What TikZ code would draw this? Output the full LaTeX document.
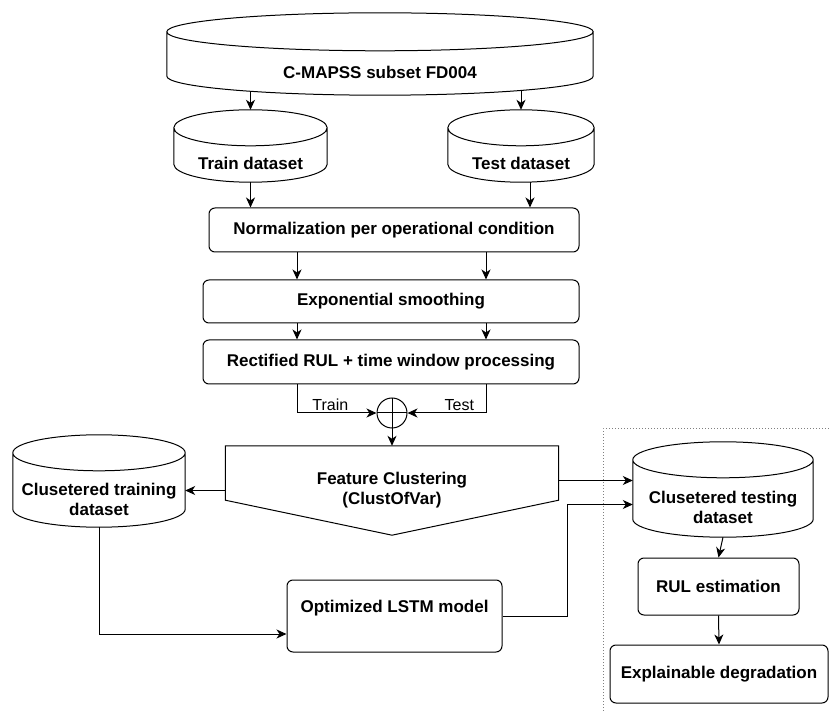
\documentclass[tikz,border=0pt]{standalone}
\usepackage{fontspec}
\setmainfont{Liberation Sans}
\usetikzlibrary{arrows.meta,calc,positioning,shapes.geometric}

% cylinder outline round a named node: #1 node, #2 cap depth (pt)
\newcommand{\dbshape}[2]{%
  \draw[line width=1pt] let \p1=(#1.north west), \p2=(#1.south east), \n1={abs(\x2-\x1)/2} in
    ([yshift=-#2pt]#1.north) ellipse[x radius=\n1, y radius=#2pt]
    ([yshift=-#2pt]#1.north west) -- ([yshift=#2pt]#1.south west)
    arc[start angle=180, end angle=360, x radius=\n1, y radius=#2pt]
    -- ([yshift=-#2pt]#1.north east);
}

\begin{document}
\begin{tikzpicture}[x=1pt, y=-1pt,
      font=\fontsize{17}{20}\selectfont\bfseries,
      proc/.style={draw, line width=1pt, rounded corners=6pt, align=center,
        inner sep=2pt},
      db/.style={align=center, inner sep=0pt, text depth=0pt, text height=#1},
      arr/.style={-{Stealth[length=10pt,width=9pt,inset=3pt]}, line width=1pt},
      lbl/.style={font=\fontsize{16}{18}\selectfont, inner sep=2pt}
    ]
    \useasboundingbox (0,0) rectangle (831,711);

    % data sources
    \node[db=50pt, minimum width=426pt, minimum height=82pt] (src) at (380,54) {C-MAPSS subset FD004};
    \node[db=48pt, minimum width=153pt, minimum height=72pt] (train) at (250.5,146) {Train dataset};
    \node[db=48pt, minimum width=146pt, minimum height=72pt] (test) at (521,146) {Test dataset};
    \dbshape{src}{19}
    \dbshape{train}{18}
    \dbshape{test}{18}
    \draw[arr, shorten <=-4pt] (src.south -| train.north) -- (train.north);
    \draw[arr, shorten <=-4pt] (src.south -| test.north) -- (test.north);

    % preprocessing
    \node[proc, minimum width=370pt, minimum height=44pt] (norm) at (394,230) {Normalization per operational condition};
    \node[proc, minimum width=376pt, minimum height=43pt] (smooth) at (391,301.5) {Exponential smoothing};
    \node[proc, minimum width=376pt, minimum height=44pt] (rulwin) at (391,362) {Rectified RUL + time window processing};
    \coordinate (lx) at (297,0);
    \coordinate (rx) at (486,0);
    \draw[arr] (train.south) -- (train.south |- norm.north);
    \draw[arr] ([xshift=9pt]test.south) -- ([xshift=9pt]test.south |- norm.north);
    \draw[arr] (norm.south -| lx) -- (smooth.north -| lx);
    \draw[arr] (norm.south -| rx) -- (smooth.north -| rx);
    \draw[arr] (smooth.south -| lx) -- (rulwin.north -| lx);
    \draw[arr] (smooth.south -| rx) -- (rulwin.north -| rx);

    % merge
    \node[draw, circle, line width=1pt, minimum size=30pt, inner sep=0pt,
      path picture={\draw[line width=1pt] (path picture bounding box.north) -- (path picture bounding box.south)
        (path picture bounding box.west) -- (path picture bounding box.east);}] (sum) at (392,413) {};
    \draw[arr] (rulwin.south -| lx) |- node[lbl, above, pos=0.71] {Train} (sum.west);
    \draw[arr] (rulwin.south -| rx) |- node[lbl, above, pos=0.67] {Test} (sum.east);

    % clustering
    \node[align=center, minimum width=333pt, minimum height=89pt, inner sep=0pt] (clust) at (392,490.5) {Feature Clustering\\(ClustOfVar)};
    \draw[line width=1pt] (clust.north west) -- (clust.north east) -- ([yshift=35pt]clust.south east)
      -- (clust.south) -- ([yshift=35pt]clust.south west) -- cycle;
    \draw[arr] (sum.south) -- (clust.north);

    \node[db=69pt, minimum width=172pt, minimum height=92pt] (trc) at (99,481) {Clusetered training\\dataset};
    \node[db=68pt, minimum width=180pt, minimum height=95pt] (tstc) at (723,489.5) {Clusetered testing\\dataset};
    \dbshape{trc}{18}
    \dbshape{tstc}{18}
    \draw[arr] (clust.west) -- (clust.west -| trc.east);
    \draw[arr] ([yshift=10pt]clust.east) -- ([yshift=10pt]clust.east -| tstc.west);

    % model
    \node[proc, minimum width=215pt, minimum height=72pt] (lstm) at (394.5,616) {Optimized LSTM model\\~};
    \draw[arr] (trc.south) |- ([yshift=-18pt]lstm.west);
    \draw[arr] (lstm.east) -| ([xshift=-65pt,yshift=-15pt]tstc.west) -- ([yshift=-15pt]tstc.west);

    % estimation
    \node[proc, minimum width=161pt, minimum height=57pt] (rul) at (718.5,586.5) {RUL estimation};
    \node[proc, minimum width=218pt, minimum height=58pt] (expl) at (719,674) {Explainable degradation};
    \draw[arr] (tstc.south) -- (rul.north);
    \draw[arr] (rul.south) -- (expl.north);
    \draw[dotted, line width=1pt, gray] (603,711) -- (603,429) -- (831,429);
  \end{tikzpicture}
\end{document}
